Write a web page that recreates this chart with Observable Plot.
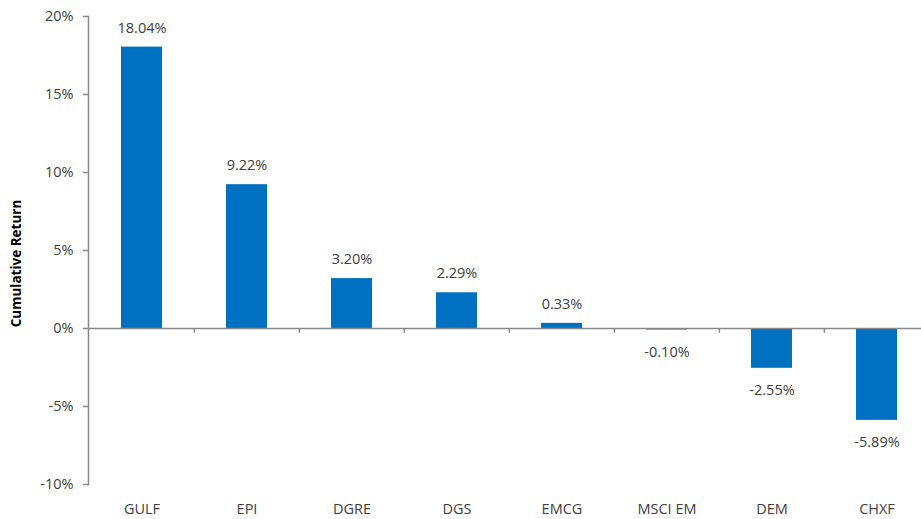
<!DOCTYPE html>
<html>
<head>
<meta charset="utf-8">
<script src="https://cdn.jsdelivr.net/npm/d3@7"></script>
<script src="https://cdn.jsdelivr.net/npm/@observablehq/plot@0.6"></script>
<style>
  body { margin: 0; background: #fff; }
  #chart svg { display: block; }
</style>
</head>
<body>
<div id="chart"></div>
<script>
const categories = ["GULF", "EPI", "DGRE", "DGS", "EMCG", "MSCI EM", "DEM", "CHXF"];
const returns = [18.04, 9.22, 3.20, 2.29, 0.33, -0.10, -2.55, -5.89];
const yTicks = [-10, -5, 0, 5, 10, 15, 20];
const yLabel = "Cumulative Return";

const data = categories.map((c, i) => ({ name: c, value: returns[i] }));
const fmt = v => v.toFixed(2) + "%";
const W = 921, H = 519;
const mLeft = 88;
const xRange = [mLeft, 930];
const step = (xRange[1] - xRange[0]) / categories.length;
const FS = 14.5;

const chart = Plot.plot({
  width: W,
  height: H,
  marginLeft: mLeft,
  marginRight: 0,
  marginTop: 16,
  marginBottom: 35,
  style: { fontFamily: "'Open Sans', 'Liberation Sans', sans-serif", fontSize: FS + "px", color: "#404040", background: "#fff" },
  x: { domain: categories, range: xRange, paddingInner: 0.61, paddingOuter: 0.305, align: 0.5 },
  y: { domain: [-10, 20] },
  marks: [
    Plot.frame({ anchor: "left", stroke: "#888888", strokeWidth: 1.5 }),
    Plot.axisY({ ticks: yTicks, tickFormat: d => d + "%", tickSize: 5, tickPadding: 10, stroke: "#888888", strokeWidth: 1.5, label: null, fill: "#404040", fontSize: FS }),
    Plot.axisX({ tickSize: 0, tickPadding: 19, label: null, fill: "#404040", fontSize: FS }),
    Plot.barY(data, { x: "name", y: "value", fill: "#0070C0" }),
    Plot.ruleY([0], { stroke: "#888888", strokeWidth: 1.5 }),
    Plot.ruleX(categories.slice(1), { x: d => d, dx: -step / 2, y1: 0, y2: -0.3, stroke: "#888888", strokeWidth: 1.5 }),
    Plot.text(data.filter(d => d.value >= 0), { x: "name", y: "value", text: d => fmt(d.value), dy: -19, fill: "#404040", fontSize: FS }),
    Plot.text(data.filter(d => d.value < 0), { x: "name", y: "value", text: d => fmt(d.value), dy: 22, fill: "#404040", fontSize: FS }),
    Plot.text([yLabel], { frameAnchor: "left", textAnchor: "middle", text: d => d, rotate: -90, dx: -72, dy: 13, fontWeight: "bold", fontSize: 13.5, fill: "#000" })
  ]
});
document.getElementById("chart").appendChild(chart);
</script>
</body>
</html>
